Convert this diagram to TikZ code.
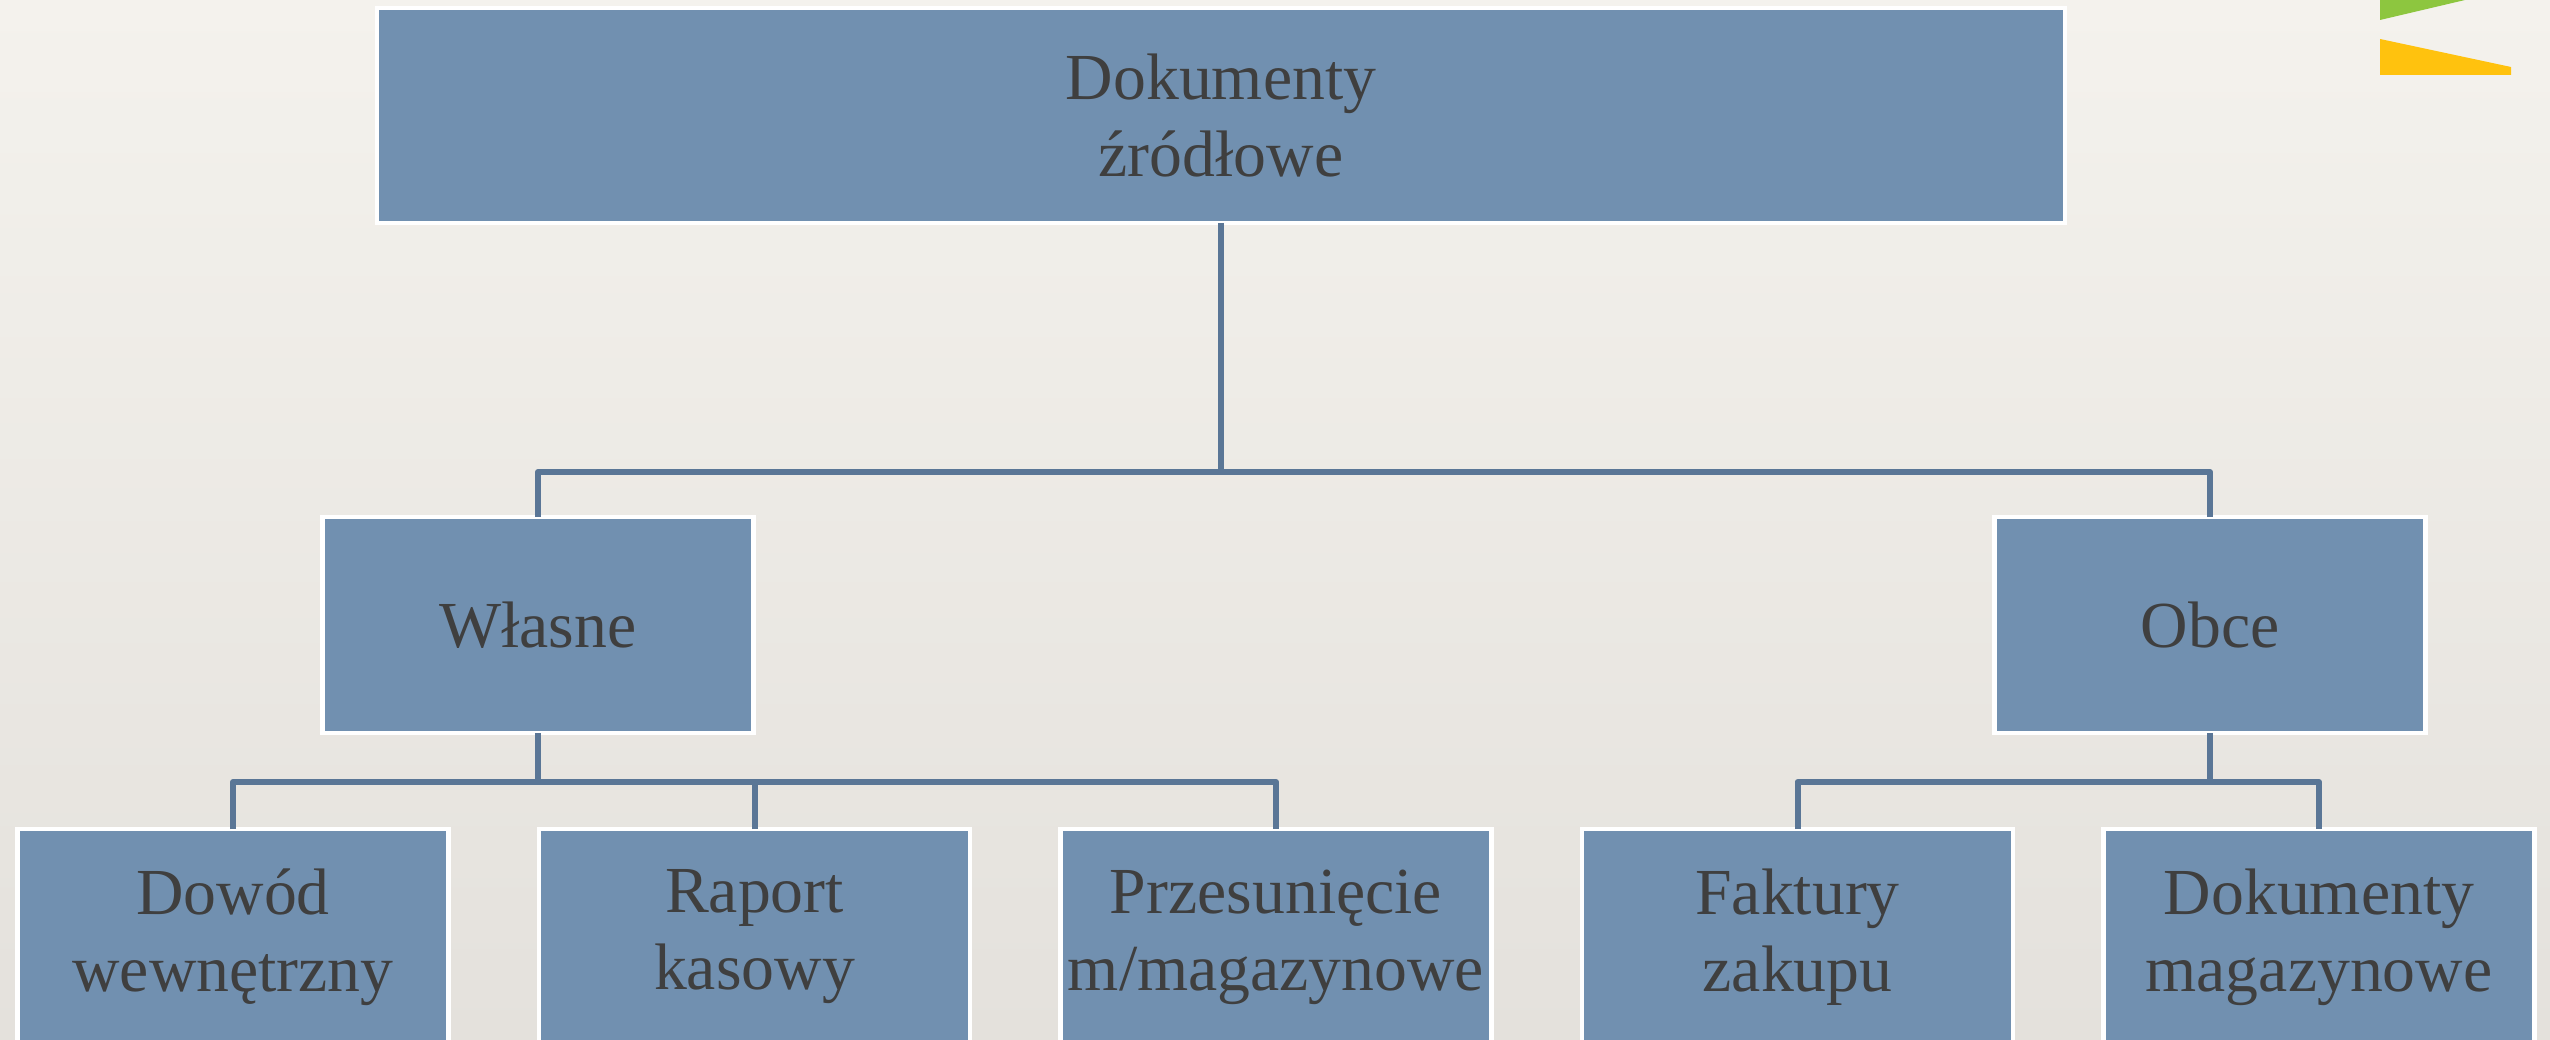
\documentclass[tikz,border=0pt]{standalone}
\usepackage{fontspec}
\setmainfont{Liberation Serif}
\usepackage{tikz}
\usetikzlibrary{positioning, calc}

\definecolor{boxblue}{HTML}{7190B0}
\definecolor{linkblue}{HTML}{5A7696}
\definecolor{txtgray}{HTML}{3F3F3F}
\definecolor{paperhi}{HTML}{F4F2ED}
\definecolor{paperlo}{HTML}{E4E1DC}
\definecolor{accgreen}{HTML}{8DC63F}
\definecolor{accyellow}{HTML}{FFC20E}

\begin{document}
\begin{tikzpicture}[
    docbox/.style={draw=white, line width=1.2pt, fill=boxblue, text=txtgray,
        minimum width=4.31cm, minimum height=2.16cm, align=center, inner sep=1pt,
        outer sep=0pt, font=\fontsize{18.7}{21.9}\selectfont},
    link/.style={draw=linkblue, line width=1.7pt, line join=round}
]
\clip (0,0) rectangle (25.5,-10.4);
\shade[top color=paperhi, bottom color=paperlo] (0,0) rectangle (25.5,-10.4);

% corner marks
\fill[accgreen] (23.80,0) -- (24.65,0) -- (23.80,-0.20) -- cycle;
\fill[accyellow] (23.80,-0.39) -- (25.11,-0.67) -- (25.11,-0.75) -- (23.80,-0.75) -- cycle;

\node[docbox, minimum width=16.88cm, minimum height=2.15cm] (zrodla) at (12.21,-1.155) {Dokumenty\\źródłowe};
\node[docbox] (wlasne) at (5.38,-6.25) {Własne};
\node[docbox] (obce) at (22.10,-6.25) {Obce};

\node[docbox] (dowod) at (2.33,-9.37) {Dowód\\wewnętrzny};
\node[docbox, right=0.905cm of dowod] (raport) {Raport\\kasowy};
\node[docbox, right=0.905cm of raport] (przes) {Przesunięcie\\m/magazynowe};
\node[docbox, right=0.905cm of przes] (faktury) {Faktury\\zakupu};
\node[docbox, right=0.905cm of faktury] (dokmag) {Dokumenty\\magazynowe};

\draw[link] (zrodla.south) -- ++(0,-2.49) coordinate (zb);
\draw[link] (wlasne.north) |- (zb) -| (obce.north);

\draw[link] (wlasne.south) -- ++(0,-0.49) coordinate (wb);
\draw[link] (dowod.north) |- (wb) -| (przes.north);
\draw[link] (raport.north) -- (raport.north |- wb);

\draw[link] (obce.south) -- ++(0,-0.49) coordinate (ob);
\draw[link] (faktury.north) |- (ob) -| (dokmag.north);

\end{tikzpicture}
\end{document}
